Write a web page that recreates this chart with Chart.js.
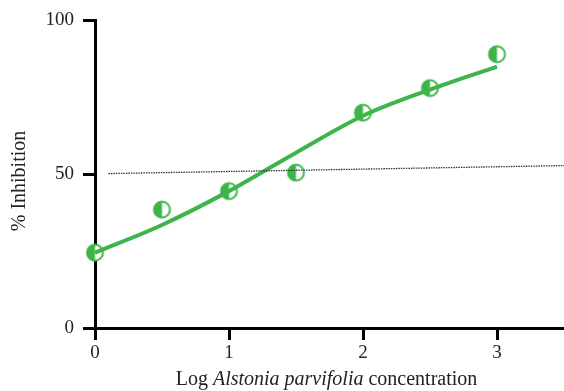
<!DOCTYPE html>
<html>
<head>
<meta charset="utf-8">
<script src="https://cdn.jsdelivr.net/npm/chart.js@4"></script>
<style>
  html, body { margin: 0; padding: 0; background: #fff; overflow: hidden; }
  #wrap { width: 564px; height: 391px; }
</style>
</head>
<body>
<div id="wrap"><canvas id="inhibitionChart"></canvas></div>
<script>
// measured points
const logConc = [0, 0.5, 1, 1.5, 2, 2.5, 3];
const inhibition = [24.5, 38.5, 44.5, 50.5, 70, 78, 89];
// fitted curve
const fitX = [0, 0.5, 1, 1.5, 2, 2.5, 3];
const fitY = [24.5, 33.5, 44.5, 57, 69, 77.5, 85];
// dotted reference line
const refX = [0.1, 3.5];
const refY = [50.2, 52.8];
const xTicks = [0, 1, 2, 3];
const yTicks = [0, 50, 100];

const green = '#3db54a';
const serif = "'Liberation Serif', 'DejaVu Serif', serif";

// half filled circle marker
function halfCircle(r) {
  const c = document.createElement('canvas');
  const s = r * 2 + 4;
  c.width = s; c.height = s;
  const g = c.getContext('2d');
  const m = s / 2;
  g.fillStyle = '#fff';
  g.beginPath(); g.arc(m, m, r, 0, Math.PI * 2); g.fill();
  g.fillStyle = green;
  g.beginPath(); g.arc(m, m, r, Math.PI / 2, Math.PI * 1.5); g.closePath(); g.fill();
  g.strokeStyle = green; g.lineWidth = 2;
  g.beginPath(); g.arc(m, m, r - 0.5, 0, Math.PI * 2); g.stroke();
  return c;
}
const marker = halfCircle(8.5);

const ctx = document.getElementById('inhibitionChart').getContext('2d');
new Chart(ctx, {
  type: 'scatter',
  data: {
    datasets: [
      {
        label: 'reference',
        data: refX.map((x, i) => ({ x: x, y: refY[i] })),
        showLine: true,
        borderColor: '#333',
        borderWidth: 1.3,
        borderDash: [1.5, 1],
        pointRadius: 0,
        clip: false
      },
      {
        label: 'fit',
        data: fitX.map((x, i) => ({ x: x, y: fitY[i] })),
        showLine: true,
        borderColor: green,
        borderWidth: 4,
        cubicInterpolationMode: 'monotone',
        pointRadius: 0,
        clip: false
      },
      {
        label: 'measured',
        data: logConc.map((x, i) => ({ x: x, y: inhibition[i] })),
        pointStyle: marker,
        pointRadius: 9,
        showLine: false,
        clip: false
      }
    ]
  },
  options: {
    responsive: true,
    maintainAspectRatio: false,
    animation: false,
    layout: { autoPadding: false, padding: { top: 20, right: 0, bottom: 0, left: 0 } },
    plugins: {
      legend: { display: false },
      tooltip: { enabled: false }
    },
    scales: {
      x: {
        type: 'linear',
        min: 0,
        max: 3.5,
        afterBuildTicks: scale => { scale.ticks = xTicks.map(v => ({ value: v })); },
        afterFit: scale => { scale.height = 63; scale.paddingRight = 0; scale.paddingLeft = 0; },
        border: { display: true, color: '#000', width: 3 },
        grid: { drawOnChartArea: false, drawTicks: true, tickLength: 12, tickWidth: 3, color: '#000' },
        ticks: { color: '#222', font: { family: serif, size: 19 }, padding: 2, maxRotation: 0 },
        title: { display: false }
      },
      y: {
        min: 0,
        max: 100,
        afterBuildTicks: scale => { scale.ticks = yTicks.map(v => ({ value: v })); },
        afterFit: scale => { scale.width = 95; },
        border: { display: true, color: '#000', width: 3 },
        grid: { drawOnChartArea: false, drawTicks: true, tickLength: 12, tickWidth: 3, color: '#000' },
        ticks: { color: '#222', font: { family: serif, size: 19 }, padding: 9 },
        title: { display: false }
      }
    }
  },
  plugins: [{
    // axis titles, x one with the species name in italics
    id: 'axisTitles',
    afterDraw(chart) {
      const g = chart.ctx;
      const area = chart.chartArea;
      const size = 20;
      g.save();
      g.fillStyle = '#222';
      g.textBaseline = 'middle';

      const parts = [['Log ', 'normal'], ['Alstonia parvifolia', 'italic'], [' concentration', 'normal']];
      let total = 0;
      parts.forEach(p => { g.font = p[1] + ' ' + size + 'px ' + serif; total += g.measureText(p[0]).width; });
      let x = (area.left + area.right) / 2 - 3 - total / 2;
      parts.forEach(p => {
        g.font = p[1] + ' ' + size + 'px ' + serif;
        g.fillText(p[0], x, 380);
        x += g.measureText(p[0]).width;
      });

      g.translate(20, 181);
      g.rotate(-Math.PI / 2);
      g.font = 'normal ' + size + 'px ' + serif;
      g.textAlign = 'center';
      g.fillText('% Inhibition', 0, 0);
      g.restore();
    }
  }]
});
</script>
</body>
</html>
